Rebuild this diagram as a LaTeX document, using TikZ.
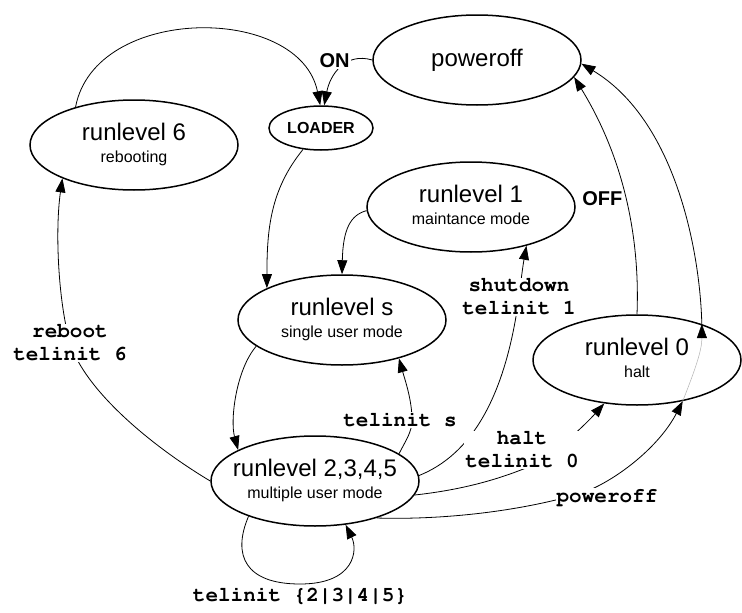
\documentclass[tikz,border=0pt]{standalone}
\usepackage[T1]{fontenc}
\usepackage{fontspec}
\setmainfont{Liberation Sans}
\usepackage{tikz}
\usetikzlibrary{shapes.geometric, arrows.meta}

\newcommand{\cmdfamily}{\fontencoding{T1}\fontfamily{pcr}\bfseries}
\newcommand{\statelabel}[2]{\makebox[0pt]{\begin{tabular}{@{}c@{}}\fontsize{24}{26}\selectfont #1\\[7pt]\fontsize{16}{18}\selectfont #2\end{tabular}}}

\begin{document}
\begin{tikzpicture}[x=1pt, y=-1pt,
    state/.style={draw, ellipse, line width=1.5pt, minimum width=208pt, minimum height=90pt, inner sep=0pt, fill=white},
    trans/.style={line width=0.8pt, -{Triangle[length=14pt, width=10pt]}},
    cmd/.style={font=\cmdfamily\fontsize{21}{23}\selectfont, align=center, fill=white, inner sep=1pt},
    power/.style={font=\bfseries\fontsize{20}{22}\selectfont, inner sep=1pt}]
    \useasboundingbox (0,0) rectangle (742,613);

    \node[state] (poweroff) at (477,60) {\fontsize{24}{26}\selectfont poweroff};
    \node[state, minimum width=104pt, minimum height=44pt] (loader) at (321,128) {\bfseries\fontsize{16}{18}\selectfont LOADER};
    \node[state] (rl6) at (134,145) {\statelabel{runlevel 6}{rebooting}};
    \node[state] (rl1) at (471,207) {\statelabel{runlevel 1}{maintance mode}};
    \node[state] (rls) at (342,320) {\statelabel{runlevel s}{single user mode}};
    \node[state] (rl0) at (637,360) {\statelabel{runlevel 0}{halt}};
    \node[state] (rlmulti) at (315,481) {\statelabel{runlevel 2,3,4,5}{multiple user mode}};

    \draw[trans] (rl6.147) .. controls (95,4) and (300,4) .. (loader.92);
    \draw[trans] (poweroff.180) .. controls (345,52) and (330,75) .. (loader.82) node[pos=0.3, anchor=east, power, fill=white] {ON};
    \draw[trans] (loader.230) .. controls (270,190) and (267,230) .. (rls.157);
    \draw[trans] (rl1.182) .. controls (350,215) and (343,230) .. (rls.90);
    \draw[trans] (rls.197) .. controls (236,370) and (230,420) .. (rlmulti.158);
    \draw[trans] (rlmulti.west) .. controls (150,445) and (85,390) .. (70,343) node[cmd] {reboot\\telinit 6} .. controls (58,300) and (55,230) .. (rl6.205);
    \draw[trans] (rlmulti.18) .. controls (406,440) and (412,432) .. (412,420) node[cmd, xshift=-12pt] {telinit s} .. controls (412,400) and (405,380) .. (rls.326);
    \draw[trans] (rlmulti.3) .. controls (470,455) and (505,400) .. (519,297) node[cmd] {shutdown\\telinit 1} .. controls (521,280) and (523,265) .. (rl1.325);
    \draw[trans] (rlmulti.-8) .. controls (460,490) and (500,480) .. (540,462) node[cmd, xshift=-18pt, yshift=12pt] {halt\\telinit 0} .. controls (560,448) and (585,425) .. (rl0.233);
    \draw[trans] (rlmulti.329) .. controls (440,520) and (520,512) .. (585,492) node[cmd, xshift=22pt, yshift=-5pt] {poweroff} .. controls (620,478) and (660,445) .. (rl0.318);
    \draw[line width=0.5pt, gray!60, -{Triangle[length=14pt, width=10pt, color=black, fill=black]}] (rl0.318) .. controls (695,370) and (702,350) .. (rl0.29);
    \draw[trans] (rl0.29) .. controls (700,250) and (675,120) .. (poweroff.-2);
    \draw[trans] (rl0.90) .. controls (640,240) and (625,160) .. (poweroff.-10) node[pos=0.5, left=2pt, power] {OFF};
    \draw[trans] (rlmulti.208) .. controls (232,555) and (245,584) .. (300,584) node[cmd, below, fill=none] {telinit \{2|3|4|5\}} .. controls (355,584) and (358,550) .. (rlmulti.305);
\end{tikzpicture}
\end{document}
